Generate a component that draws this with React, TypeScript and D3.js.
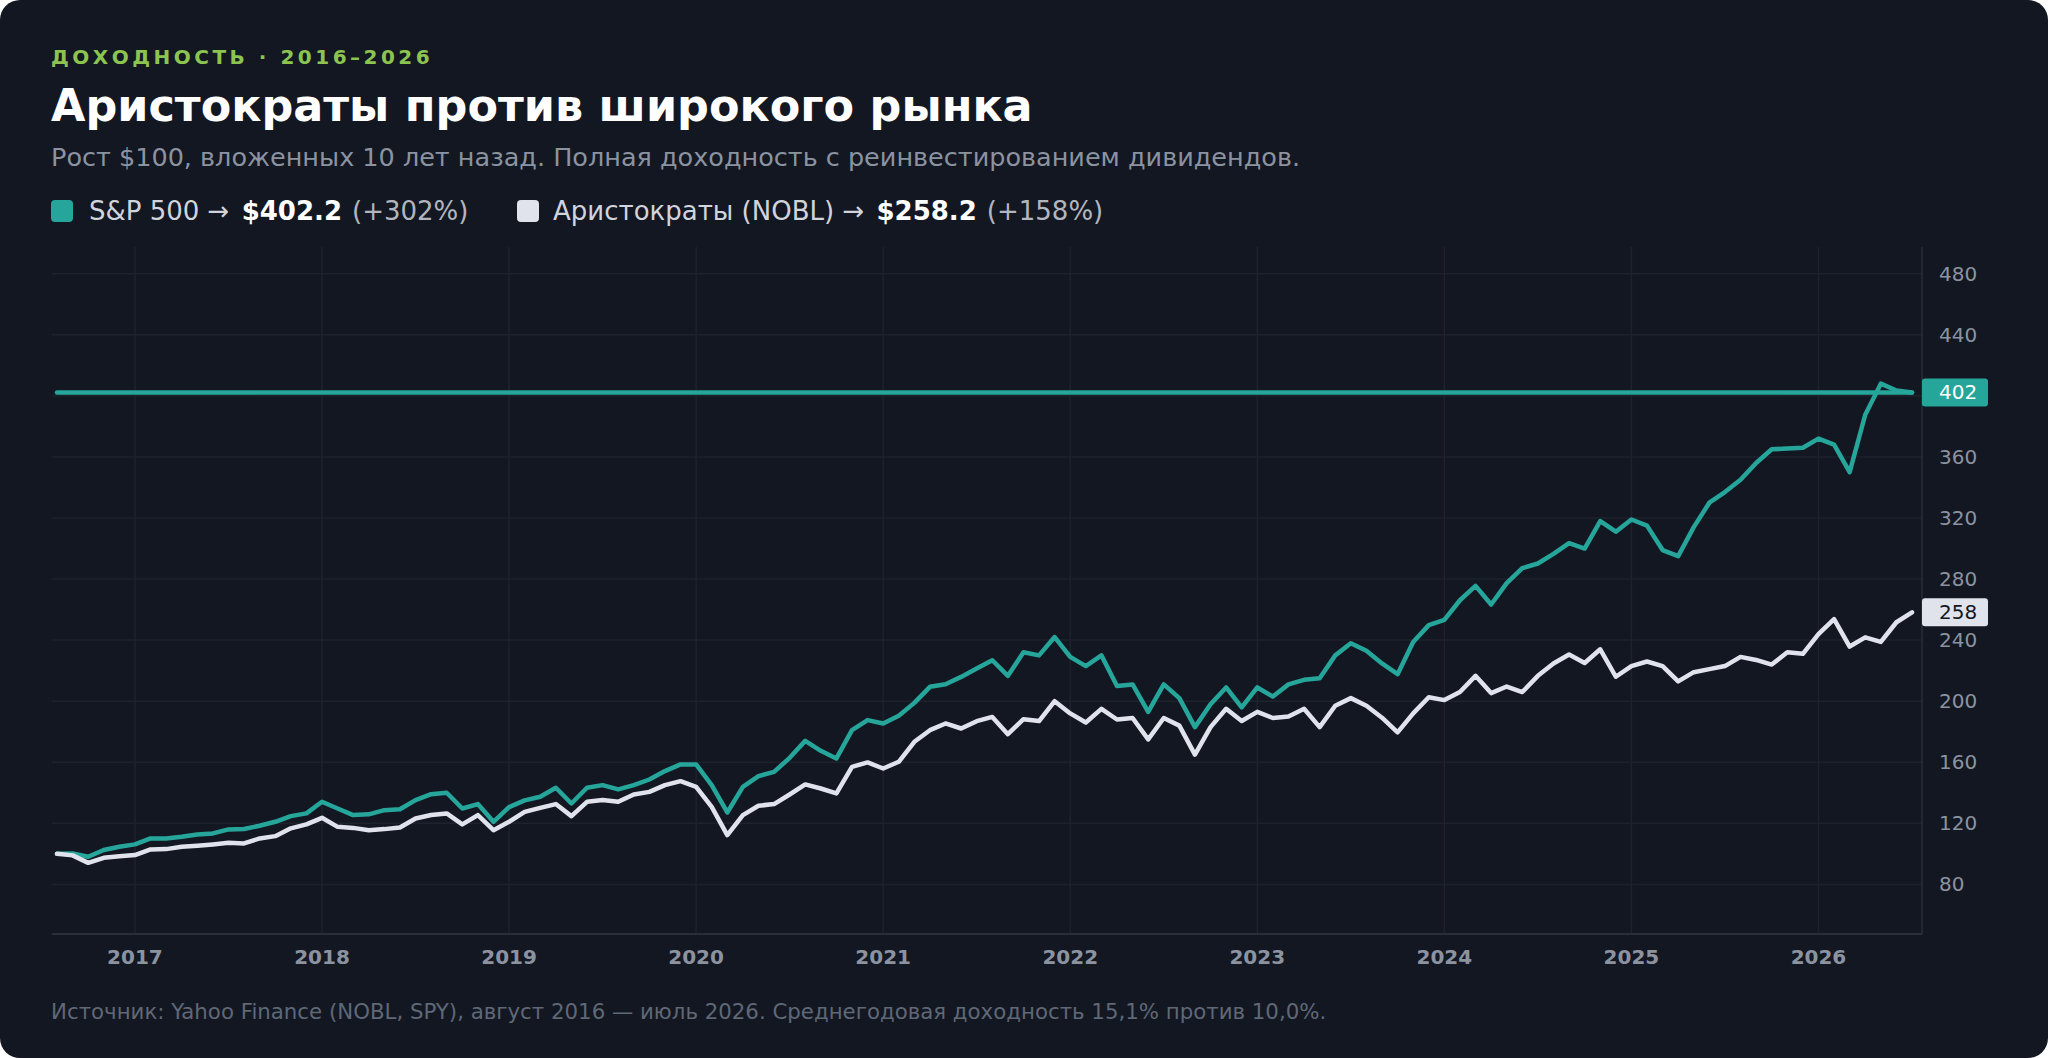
import React from "react";
import * as d3 from "d3";

// ---- data (monthly, Aug 2016 – Jul 2026, growth of $100) ----
const startYear = 2016;
const startMonth = 7; // August (0-based)
const spx: number[] = [
  100, 100.2, 98.1, 102.5, 104.6, 106.2, 110.1, 110.1, 111.2, 112.7,
  113.4, 116.0, 116.3, 118.4, 121.0, 124.7, 126.5, 134.1, 129.7, 125.4,
  125.9, 128.6, 129.2, 135.2, 139.1, 140.0, 129.7, 132.6, 121.0, 130.6,
  135.0, 137.4, 143.3, 133.0, 143.3, 145.0, 142.2, 145.0, 148.7, 154.2,
  158.6, 158.6, 145.0, 127.1, 143.9, 150.9, 153.7, 162.9, 174.0, 167.5,
  162.5, 181.0, 187.6, 185.4, 190.4, 198.9, 209.4, 211.1, 215.9, 221.4,
  226.8, 216.6, 232, 230, 242, 229, 223, 230, 210, 211,
  193, 211, 202, 183, 198, 209, 196, 209, 203, 211,
  214, 215, 230, 238, 233, 224.7, 217.7, 238.8, 249.8, 253.3,
  266.1, 275.5, 263.3, 277.3, 287.1, 290.2, 296.5, 303.5, 300, 318,
  311, 319, 315, 299, 295, 314, 330, 337, 345, 356,
  365, 365.5, 366, 372, 368, 350, 387.6, 408, 403.5, 402.2,
];
const nobl: number[] = [
  100, 99.0, 94.1, 97.4, 98.5, 99.2, 102.9, 103.1, 104.6, 105.3,
  106.2, 107.2, 106.8, 110.1, 111.6, 116.7, 119.3, 123.6, 117.7, 117.0,
  115.5, 116.2, 117.3, 123.2, 125.4, 126.5, 119.3, 125.4, 115.5, 121.0,
  127.5, 130.1, 132.6, 124.7, 134.1, 135.2, 134.1, 138.9, 140.6, 145.0,
  147.6, 143.9, 130.8, 112.3, 125.4, 131.5, 132.6, 138.9, 145.5, 142.8,
  139.6, 157.0, 159.9, 155.9, 160.3, 173.4, 181.0, 185.4, 182.1, 186.9,
  189.7, 178.4, 188.2, 187, 200, 192, 186, 195, 188, 189,
  175, 189, 184, 165, 183, 195, 187, 193, 189, 190,
  195, 183, 197, 202, 197, 189.2, 179.6, 192.0, 202.6, 200.7,
  206.0, 216.6, 205.3, 209.6, 206.0, 216.6, 224.7, 230.6, 225, 234,
  216, 223, 226, 223, 213, 219, 221, 223, 229, 227,
  224, 232, 231, 243.9, 253.8, 235.8, 241.8, 238.8, 251.7, 258.2,
];
const yearTicks: number[] = [2017, 2018, 2019, 2020, 2021, 2022, 2023, 2024, 2025, 2026];
const valueTicks: number[] = [80, 120, 160, 200, 240, 280, 320, 360, 400, 440, 480];
const seriesNames: string[] = ["S&P 500", "Аристократы (NOBL)"];

const W = 2048;
const H = 1058;
const FONT = "'DejaVu Sans', Verdana, sans-serif";
const C = {
  bg: "#131722",
  teal: "#26a69a",
  white: "#e0e3eb",
  grid: "#1e222d",
  axis: "#2a2e39",
  tick: "#8c93a0",
  kicker: "#8cc450",
  sub: "#8b93a1",
  legend: "#d1d4dc",
  foot: "#5f6877",
};

const plot = { left: 52, right: 1922, top: 247, bottom: 934 };

export default function App() {
  const n = spx.length;
  const x = d3.scaleLinear().domain([0, n - 1]).range([57, 1912]);
  const y = d3.scaleLinear().domain([47.5, 497.5]).range([plot.bottom, plot.top]);
  const yearIdx = (yr: number) => (yr - startYear) * 12 - startMonth;
  const line = d3
    .line<number>()
    .x((_, i) => x(i))
    .y((d) => y(d));

  const lastS = spx[n - 1];
  const lastN = nobl[n - 1];
  const pct = (v: number) => Math.round(v - 100);

  return (
    <svg
      width={W}
      height={H}
      viewBox={`0 0 ${W} ${H}`}
      style={{ position: "absolute", left: 0, top: 0, display: "block" }}
      fontFamily={FONT}
    >
      <rect x={0} y={0} width={W} height={H} rx={20} fill={C.bg} />

      {/* header */}
      <text x={51} y={64} fill={C.kicker} fontSize={20} fontWeight={700} letterSpacing={3.5}>
        ДОХОДНОСТЬ · 2016–2026
      </text>
      <text x={51} y={121} fill="#ffffff" fontSize={44.5} fontWeight={700}>
        Аристократы против широкого рынка
      </text>
      <text x={51} y={166} fill={C.sub} fontSize={25.5}>
        Рост $100, вложенных 10 лет назад. Полная доходность с реинвестированием дивидендов.
      </text>

      {/* legend */}
      <rect x={51} y={200} width={22} height={22} rx={4} fill={C.teal} />
      <text x={89} y={220} fontSize={26} fill={C.legend}>
        <tspan>{seriesNames[0]} → </tspan>
        <tspan fontWeight={700} fill="#ffffff" dx={4}>${lastS.toFixed(1)}</tspan>
        <tspan dx={10} fill="#b2b5be">(+{pct(lastS)}%)</tspan>
      </text>
      <rect x={517} y={200} width={22} height={22} rx={4} fill={C.white} />
      <text x={553} y={220} fontSize={26} fill={C.legend}>
        <tspan>{seriesNames[1]} → </tspan>
        <tspan fontWeight={700} fill="#ffffff" dx={4}>${lastN.toFixed(1)}</tspan>
        <tspan dx={10} fill="#b2b5be">(+{pct(lastN)}%)</tspan>
      </text>

      {/* grid */}
      {valueTicks.map((v) => (
        <line key={"h" + v} x1={plot.left} x2={plot.right} y1={y(v)} y2={y(v)} stroke={C.grid} strokeWidth={1.5} />
      ))}
      {yearTicks.map((yr) => (
        <line
          key={"v" + yr}
          x1={x(yearIdx(yr))}
          x2={x(yearIdx(yr))}
          y1={plot.top}
          y2={plot.bottom}
          stroke={C.grid}
          strokeWidth={1.5}
        />
      ))}
      <line x1={plot.left} x2={plot.right} y1={plot.bottom} y2={plot.bottom} stroke={C.axis} strokeWidth={2} />
      <line x1={plot.right} x2={plot.right} y1={plot.top} y2={plot.bottom} stroke={C.axis} strokeWidth={1.5} />

      {/* x labels */}
      {yearTicks.map((yr) => (
        <text
          key={"xl" + yr}
          x={x(yearIdx(yr))}
          y={964}
          textAnchor="middle"
          fontSize={20}
          fontWeight={700}
          fill={C.tick}
        >
          {yr}
        </text>
      ))}
      {/* y labels */}
      {valueTicks.map((v) => (
        <text key={"yl" + v} x={1939} y={y(v)} dy="0.35em" fontSize={20} fill={C.tick}>
          {v}
        </text>
      ))}

      {/* last value line */}
      <line
        x1={x(0)}
        x2={x(n - 1)}
        y1={y(lastS)}
        y2={y(lastS)}
        stroke={C.teal}
        strokeWidth={4.5}
        strokeLinecap="round"
      />
      {/* series */}
      <path d={line(spx) || ""} fill="none" stroke={C.teal} strokeWidth={4.5} strokeLinejoin="round" strokeLinecap="round" />
      <path d={line(nobl) || ""} fill="none" stroke={C.white} strokeWidth={4.5} strokeLinejoin="round" strokeLinecap="round" />

      {/* badges */}
      <rect x={1922} y={y(lastS) - 14} width={66} height={28} rx={3} fill={C.teal} />
      <text x={1939} y={y(lastS)} dy="0.35em" fontSize={20} fill="#ffffff">
        {Math.round(lastS)}
      </text>
      <rect x={1922} y={y(lastN) - 14} width={66} height={28} rx={3} fill={C.white} />
      <text x={1939} y={y(lastN)} dy="0.35em" fontSize={20} fill="#131722">
        {Math.round(lastN)}
      </text>

      {/* footer */}
      <text x={51} y={1019} fontSize={21.3} fill={C.foot}>
        Источник: Yahoo Finance (NOBL, SPY), август 2016 — июль 2026. Среднегодовая доходность 15,1% против 10,0%.
      </text>
    </svg>
  );
}
